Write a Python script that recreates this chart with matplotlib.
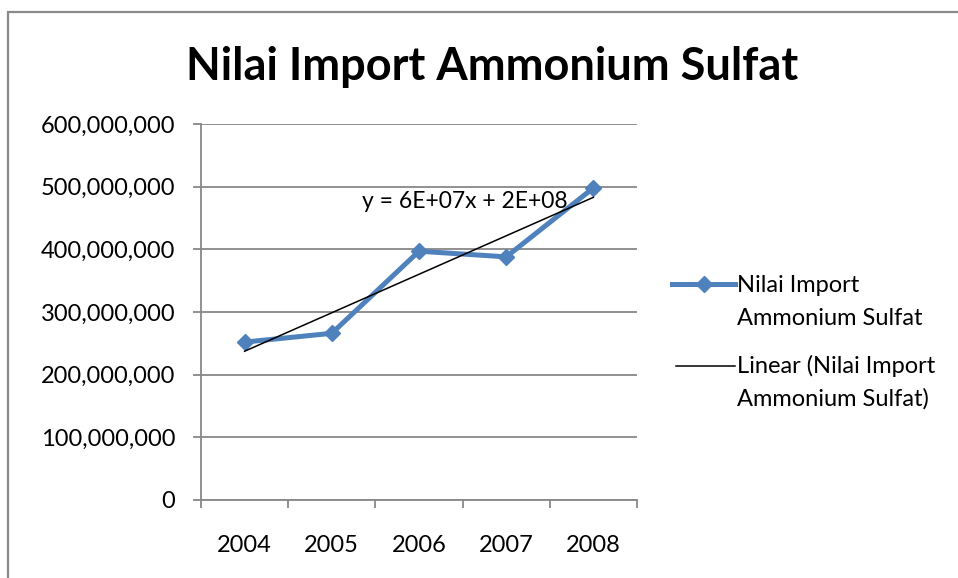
import numpy as np
import matplotlib
matplotlib.use("Agg")
import matplotlib.pyplot as plt
from matplotlib.patches import Rectangle
from matplotlib.lines import Line2D

plt.rcParams['font.family'] = ['Lato', 'DejaVu Sans']

years = ['2004', '2005', '2006', '2007', '2008']
values = [252e6, 266e6, 397e6, 388e6, 498e6]
series_lines = ['Nilai Import', 'Ammonium Sulfat']
trend_lines = ['Linear (Nilai Import', 'Ammonium Sulfat)']
title = 'Nilai Import Ammonium Sulfat'

W, H = 958, 578
fig = plt.figure(figsize=(W/100, H/100), dpi=100)
fig.patch.set_facecolor('white')
FS = 17

# outer chart border
fig.add_artist(Rectangle((8/W, -0.1), 1.2, (H-12)/H + 0.1, transform=fig.transFigure,
                         fill=False, edgecolor='#8a8a8a', lw=1.6))

ax = fig.add_axes([201/W, (H-500)/H, 436/W, 376/H])
x = np.arange(len(years))
grid_c = '#888888'
blue = '#4F81BD'

ax.plot(x, values, color=blue, lw=3.6, marker='D', markersize=8.5,
        markeredgewidth=1, markeredgecolor=blue, zorder=3)

# linear trendline (x = 1..n as in Excel)
xn = x + 1
slope, intercept = np.polyfit(xn, values, 1)
trend = slope * xn + intercept
ax.plot(x, trend, color='black', lw=1.1, zorder=4)
eq = f"y = {slope:.0E}x + {intercept:.0E}"
ax.text(2.53, 477e6, eq, ha='center', va='center', fontsize=16.5, zorder=5)

ax.set_xlim(-0.5, 4.5)
ax.set_ylim(0, 600e6)
yt = np.arange(0, 600e6 + 1, 100e6)
ax.set_yticks(yt)
ax.set_yticklabels([f"{int(v):,}" for v in yt])
ax.yaxis.grid(True, color=grid_c, lw=1.3)
ax.set_axisbelow(True)

ax.set_xticks(np.arange(-0.5, 5, 1.0))
ax.set_xticklabels([])
ax.set_xticks(x, minor=True)
ax.set_xticklabels(years, minor=True)
ax.tick_params(axis='x', which='major', length=6, width=1.3, color=grid_c, direction='out')
ax.tick_params(axis='x', which='minor', length=0, pad=25, labelsize=FS)
ax.tick_params(axis='y', length=6, width=1.3, color=grid_c, pad=12.5, labelsize=FS)

for s in ['top', 'right']:
    ax.spines[s].set_visible(False)
for s in ['left', 'bottom']:
    ax.spines[s].set_color(grid_c)
    ax.spines[s].set_linewidth(1.3)

fig.text(492/W, 1 - 67/H, title, ha='center', va='center', fontsize=32.5, fontweight='bold')

# legend (handle aligned with first text line, as in the reference)
def fy(py):
    return 1 - py / H

fig.add_artist(Line2D([672/W, 735/W], [fy(284), fy(284)], color=blue, lw=3.6,
                      transform=fig.transFigure))
fig.add_artist(Line2D([704/W], [fy(284)], color=blue, marker='D', markersize=8.5,
                      transform=fig.transFigure))
fig.add_artist(Line2D([676/W, 735/W], [fy(366), fy(366)], color='black', lw=1.1,
                      transform=fig.transFigure))
for txt, base in zip(series_lines + trend_lines, [292, 325, 373, 406]):
    fig.text(737/W, fy(base), txt, ha='left', va='baseline', fontsize=FS)

fig.savefig('out.png', dpi=100)
